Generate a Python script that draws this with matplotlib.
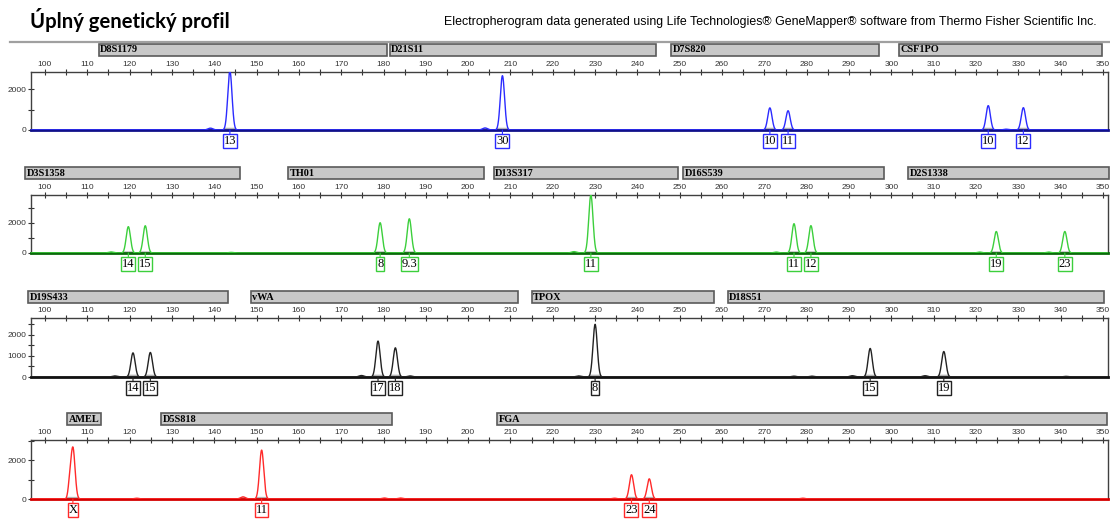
import numpy as np
import matplotlib
matplotlib.use("Agg")
import matplotlib.pyplot as plt
from matplotlib.patches import Rectangle
from matplotlib.lines import Line2D

W, H = 1110, 521
DPI = 100

# ---- data ----
# panel 1, blue dye
blue_markers = ["D8S1179", "D21S11", "D7S820", "CSF1PO"]
blue_marker_start = [112.7, 181.5, 248.0, 301.9]
blue_marker_end = [180.9, 244.4, 297.0, 349.8]
blue_peak_bp = [139.1, 143.7, 204.0, 208.1, 271.3, 275.6, 322.9, 327.1, 331.2]
blue_peak_rfu = [90, 2880, 100, 2650, 1080, 940, 1190, 40, 1090]
blue_alleles = ["", "13", "", "30", "10", "11", "10", "", "12"]

# panel 2, green dye
green_markers = ["D3S1358", "TH01", "D13S317", "D16S539", "D2S1338"]
green_marker_start = [95.3, 157.5, 206.0, 250.8, 304.0]
green_marker_end = [146.2, 203.7, 249.5, 298.3, 351.5]
green_peak_bp = [115.6, 119.7, 123.7, 144.0, 179.2, 186.1, 225.0, 229.0,
                 272.8, 277.0, 281.0, 320.9, 324.8, 337.2, 341.0]
green_peak_rfu = [70, 1740, 1800, 40, 2000, 2260, 90, 3830,
                  60, 1935, 1806, 60, 1420, 60, 1420]
green_alleles = ["", "14", "15", "", "8", "9.3", "", "11",
                 "", "11", "12", "", "19", "", "23"]

# panel 3, black (yellow dye)
black_markers = ["D19S433", "vWA", "TPOX", "D18S51"]
black_marker_start = [96.1, 148.6, 215.0, 261.3]
black_marker_end = [143.3, 211.8, 258.0, 350.2]
black_peak_bp = [116.5, 120.8, 124.9, 174.8, 178.7, 182.8, 186.3, 226.1, 230.0,
                 277.0, 281.2, 290.8, 295.0, 308.0, 312.4, 341.3]
black_peak_rfu = [50, 1140, 1160, 70, 1700, 1380, 50, 50, 2490,
                  40, 40, 60, 1350, 60, 1205, 30]
black_alleles = ["", "14", "15", "", "17", "18", "", "", "8",
                 "", "", "", "15", "", "19", ""]

# panel 4, red dye
red_markers = ["AMEL", "D5S818", "FGA"]
red_marker_start = [105.3, 127.4, 206.9]
red_marker_end = [113.2, 182.0, 351.0]
red_peak_bp = [105.8, 106.6, 121.7, 146.8, 151.2, 180.2, 184.0, 234.6, 238.6, 242.8, 279.1]
red_peak_rfu = [560, 2640, 40, 110, 2520, 50, 50, 40, 1250, 1040, 40]
red_alleles = ["", "X", "", "", "11", "", "", "", "23", "24", ""]

# y axis setup per panel: top of range, tick positions, labelled ticks
y_tops = [2830, 3830, 2790, 3040]
y_ticks = [[0, 1000, 2000], [0, 1000, 2000, 3000],
           [0, 500, 1000, 1500, 2000, 2500], [0, 1000, 2000, 3000]]
y_labelled = [[0, 2000], [0, 2000], [0, 1000, 2000], [0, 2000]]

panels = [
    (blue_markers, blue_marker_start, blue_marker_end, blue_peak_bp, blue_peak_rfu,
     blue_alleles, "#2b2bff", "#10108a"),
    (green_markers, green_marker_start, green_marker_end, green_peak_bp, green_peak_rfu,
     green_alleles, "#3ccf3c", "#0a6a0a"),
    (black_markers, black_marker_start, black_marker_end, black_peak_bp, black_peak_rfu,
     black_alleles, "#222222", "#111111"),
    (red_markers, red_marker_start, red_marker_end, red_peak_bp, red_peak_rfu,
     red_alleles, "#ff2a2a", "#d40000"),
]

# pixel layout
ax_left, ax_right = 31, 1108
ruler_y = [72, 195, 318, 440]
base_y = [130, 253, 377, 499]
bar_top = [44, 167, 291, 413]
bar_h = 12
XMIN, XMAX = 96.7, 351.2

fig = plt.figure(figsize=(W / DPI, H / DPI), dpi=DPI)

fig.text(30 / W, 1 - 20 / H, "Úplný genetický profil", fontsize=14.6, fontweight="bold",
         family="Lato", va="center", ha="left")
fig.text(1097 / W, 1 - 22 / H,
         "Electropherogram data generated using Life Technologies® GeneMapper® software "
         "from Thermo Fisher Scientific Inc.",
         fontsize=8.9, family="Liberation Sans", va="center", ha="right")
fig.add_artist(Line2D([10 / W, 1.0], [1 - 42 / H, 1 - 42 / H], color="#a0a0a0", lw=1.6))

xs = np.linspace(XMIN - 1, XMAX + 1, 8000)

for i, (markers, m_start, m_end, bp, rfu, alleles, col, dark) in enumerate(panels):
    x0 = ax_left / W
    w = (ax_right - ax_left) / W
    ax = fig.add_axes([x0, 1 - base_y[i] / H, w, (base_y[i] - ruler_y[i]) / H])

    trace = np.zeros_like(xs)
    for p, h in zip(bp, rfu):
        s = 0.5 if h > 300 else 0.6
        if i == 3 and h == 560:
            s = 0.35
        trace += h * np.exp(-0.5 * ((xs - p) / s) ** 2)

    ax.fill_between(xs, 0, np.minimum(trace, 110), where=trace > 4,
                    color="#b5b5b5", lw=0, zorder=2)
    ax.axhline(0, color=dark, lw=2, zorder=3, clip_on=False)
    ax.plot(xs, trace, color=col, lw=1.0, zorder=4)

    for p, lab in zip(bp, alleles):
        if not lab:
            continue
        ax.annotate(lab, xy=(p, 0), xytext=(0, -5), textcoords="offset pixels",
                    ha="center", va="top", fontsize=9, family="Liberation Serif",
                    bbox=dict(boxstyle="square,pad=0.06", fc="white", ec=col, lw=1),
                    arrowprops=dict(arrowstyle="-", color=col, lw=0.8,
                                    shrinkA=0, shrinkB=0),
                    annotation_clip=False, zorder=5)

    ax.set_xlim(XMIN, XMAX)
    ax.set_ylim(0, y_tops[i])
    ax.xaxis.tick_top()
    ax.set_xticks(np.arange(100, 351, 10))
    ax.set_xticks(np.arange(105, 350, 10), minor=True)
    ax.tick_params(axis="x", which="both", direction="inout", length=4, width=0.8,
                   labelsize=6, pad=1, colors="#333333")
    ax.set_yticks(y_ticks[i])
    ax.set_yticklabels([str(t) if t in y_labelled[i] else "" for t in y_ticks[i]])
    ax.tick_params(axis="y", direction="inout", length=4, width=0.8,
                   labelsize=6, pad=1, colors="#333333")
    for lbl in ax.get_xticklabels() + ax.get_yticklabels():
        lbl.set_family("Liberation Sans")
    ax.spines["bottom"].set_visible(False)
    for side in ["top", "left", "right"]:
        ax.spines[side].set_color("#404040")
        ax.spines[side].set_linewidth(1)

    # marker bins strip above the ruler
    bax = fig.add_axes([x0, 1 - (bar_top[i] + bar_h) / H, w, bar_h / H])
    bax.set_xlim(XMIN, XMAX)
    bax.set_ylim(0, 1)
    bax.axis("off")
    for name, a, b in zip(markers, m_start, m_end):
        bax.add_patch(Rectangle((a, 0), b - a, 1, fc="#c8c8c8", ec="#5a5a5a",
                                lw=1.2, clip_on=False))
        bax.text(a + 0.35, 0.5, name, fontsize=7.4, fontweight="bold",
                 family="Liberation Serif", va="center", ha="left", clip_on=False)

fig.savefig("out.png", dpi=DPI)
